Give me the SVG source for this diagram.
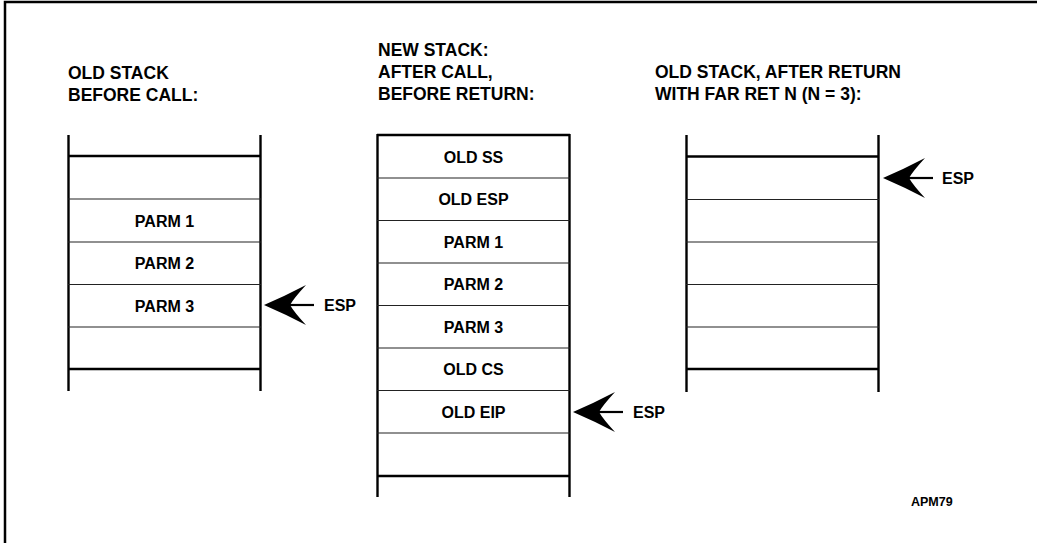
<svg xmlns="http://www.w3.org/2000/svg" width="1037" height="543" viewBox="0 0 1037 543">
<defs>
<style>
text{font-family:"Liberation Sans",Arial,sans-serif;font-weight:bold;fill:#000}
.h{font-size:17.5px}
.c{font-size:16px;text-anchor:middle}
.e{font-size:16px}
.thin{stroke:#222;stroke-width:1.2;fill:none}
.thick{stroke:#000;stroke-width:2.4;fill:none}
.small{font-size:12.5px}
</style>
<g id="arrowhead">
<path d="M0,0 Q21,-9 42,-20 Q30,-7 26,0 Q30,7 42,20 Q21,9 0,0 Z" fill="#000"/>
<line x1="24" y1="0" x2="50" y2="0" stroke="#000" stroke-width="2.2"/>
</g>
</defs>
<rect width="1037" height="543" fill="#fff"/>
<path d="M5,543 V2 H1037" fill="none" stroke="#000" stroke-width="2.5"/>

<g id="stack-old-before">
<text class="h" x="68" y="79">OLD STACK</text>
<text class="h" x="68" y="101">BEFORE CALL:</text>
<line class="thick" x1="68.5" y1="135" x2="68.5" y2="391"/>
<line class="thick" x1="260.5" y1="135" x2="260.5" y2="391"/>
<line class="thick" x1="68" y1="156" x2="261" y2="156"/>
<line class="thin" x1="68" y1="199" x2="261" y2="199"/>
<line class="thin" x1="68" y1="242" x2="261" y2="242"/>
<line class="thin" x1="68" y1="284.5" x2="261" y2="284.5"/>
<line class="thin" x1="68" y1="327" x2="261" y2="327"/>
<line class="thick" x1="68" y1="369" x2="261" y2="369"/>
<text class="c" x="164.5" y="226.5">PARM 1</text>
<text class="c" x="164.5" y="269">PARM 2</text>
<text class="c" x="164.5" y="311.5">PARM 3</text>
</g>

<g id="stack-new">
<text class="h" x="378" y="56">NEW STACK:</text>
<text class="h" x="378" y="78">AFTER CALL,</text>
<text class="h" x="378" y="100">BEFORE RETURN:</text>
<line class="thick" x1="377.5" y1="134" x2="377.5" y2="497"/>
<line class="thick" x1="569.5" y1="134" x2="569.5" y2="497"/>
<line class="thick" x1="377" y1="135" x2="570" y2="135"/>
<line class="thin" x1="377" y1="178" x2="570" y2="178"/>
<line class="thin" x1="377" y1="220.5" x2="570" y2="220.5"/>
<line class="thin" x1="377" y1="263" x2="570" y2="263"/>
<line class="thin" x1="377" y1="305.5" x2="570" y2="305.5"/>
<line class="thin" x1="377" y1="348" x2="570" y2="348"/>
<line class="thin" x1="377" y1="390.5" x2="570" y2="390.5"/>
<line class="thin" x1="377" y1="433" x2="570" y2="433"/>
<line class="thick" x1="377" y1="476" x2="570" y2="476"/>
<text class="c" x="473.5" y="162.5">OLD SS</text>
<text class="c" x="473.5" y="205">OLD ESP</text>
<text class="c" x="473.5" y="247.5">PARM 1</text>
<text class="c" x="473.5" y="290">PARM 2</text>
<text class="c" x="473.5" y="332.5">PARM 3</text>
<text class="c" x="473.5" y="375">OLD CS</text>
<text class="c" x="473.5" y="417.5">OLD EIP</text>
</g>

<g id="stack-old-after">
<text class="h" x="655" y="78">OLD STACK, AFTER RETURN</text>
<text class="h" x="655" y="100">WITH FAR RET N (N = 3):</text>
<line class="thick" x1="686.5" y1="135" x2="686.5" y2="392"/>
<line class="thick" x1="878.5" y1="135" x2="878.5" y2="392"/>
<line class="thick" x1="686" y1="156.5" x2="879" y2="156.5"/>
<line class="thin" x1="686" y1="199.5" x2="879" y2="199.5"/>
<line class="thin" x1="686" y1="242" x2="879" y2="242"/>
<line class="thin" x1="686" y1="284.5" x2="879" y2="284.5"/>
<line class="thin" x1="686" y1="327" x2="879" y2="327"/>
<line class="thick" x1="686" y1="369" x2="879" y2="369"/>
</g>

<g id="connectors">
<use href="#arrowhead" x="264" y="305"/>
<use href="#arrowhead" x="573" y="412"/>
<use href="#arrowhead" x="883" y="178"/>
</g>

<g id="labels">
<text class="e" x="324" y="311">ESP</text>
<text class="e" x="633" y="418">ESP</text>
<text class="e" x="942" y="184">ESP</text>
<text class="small" x="911" y="506">APM79</text>
</g>
</svg>
